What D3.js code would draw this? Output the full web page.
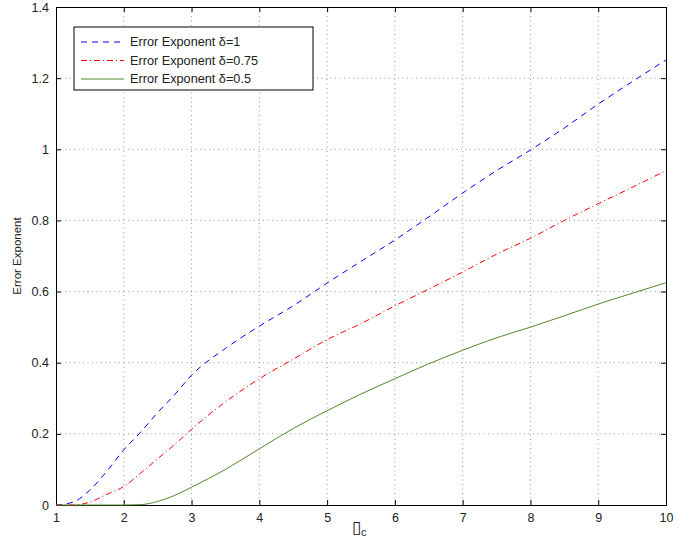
<!DOCTYPE html>
<html><head><meta charset="utf-8">
<script src="https://cdn.jsdelivr.net/npm/d3@7"></script>
<style>body{margin:0;background:#fff}svg{display:block}text{font-family:"Liberation Sans",Arial,sans-serif}</style>
</head><body><svg id="c" width="693" height="541"></svg>
<script>
const xs = [1,1.25,1.5,1.75,2,2.25,2.5,2.75,3,3.5,4,4.5,5,5.5,6,6.5,7,7.5,8,8.5,9,9.5,10];
const delta1 = [0,0.008,0.042,0.095,0.155,0.205,0.26,0.31,0.365,0.44,0.503,0.56,0.624,0.685,0.745,0.81,0.877,0.94,0.998,1.06,1.127,1.19,1.251];
const delta075 = [0,0,0.008,0.03,0.052,0.09,0.13,0.17,0.213,0.29,0.355,0.41,0.465,0.51,0.56,0.607,0.655,0.705,0.75,0.8,0.847,0.893,0.94];
const delta05 = [0,0,0,0,0,0.001,0.01,0.027,0.05,0.1,0.158,0.215,0.265,0.312,0.355,0.397,0.435,0.47,0.5,0.532,0.565,0.595,0.625];
const xTicks = [1,2,3,4,5,6,7,8,9,10];
const yTicks = [0,0.2,0.4,0.6,0.8,1,1.2,1.4];
const seriesNames = ["Error Exponent \u03b4=1","Error Exponent \u03b4=0.75","Error Exponent \u03b4=0.5"];
const xLabel = "\u25AF";
const yLabel = "Error Exponent";

const svg = d3.select("#c");
const L=56,R=666,T=7,B=505;
const x = d3.scaleLinear().domain([1,10]).range([L,R]);
const y = d3.scaleLinear().domain([0,1.4]).range([B,T]);

// grid
const g = svg.append("g");
g.selectAll(".gx").data(xTicks.slice(1,-1)).join("line")
 .attr("x1",d=>x(d)).attr("x2",d=>x(d)).attr("y1",T).attr("y2",B)
 .attr("stroke","#555").attr("stroke-width",0.6).attr("stroke-dasharray","1,3.5");
g.selectAll(".gy").data(yTicks.slice(1,-1)).join("line")
 .attr("y1",d=>y(d)).attr("y2",d=>y(d)).attr("x1",L).attr("x2",R)
 .attr("stroke","#555").attr("stroke-width",0.6).attr("stroke-dasharray","1,3.5");

// axes
const ax = svg.append("g").attr("transform",`translate(0,${B})`)
 .call(d3.axisBottom(x).tickValues(xTicks).tickSize(-5).tickPadding(8).tickFormat(d3.format("d")));
const ay = svg.append("g").attr("transform",`translate(${L},0)`)
 .call(d3.axisLeft(y).tickValues(yTicks).tickSize(-5).tickPadding(7).tickFormat(d=>d===0?"0":d3.format("")(+d.toFixed(1))));
const ax2 = svg.append("g").attr("transform",`translate(0,${T})`)
 .call(d3.axisTop(x).tickValues(xTicks).tickSize(-5).tickFormat(""));
const ay2 = svg.append("g").attr("transform",`translate(${R},0)`)
 .call(d3.axisRight(y).tickValues(yTicks).tickSize(-5).tickFormat(""));
[ax,ay,ax2,ay2].forEach(a=>{a.select(".domain").attr("stroke","#000");a.selectAll(".tick line").attr("stroke","#000");
 a.selectAll("text").attr("font-size",12.5).attr("fill","#222").style("font-family","Liberation Sans, Arial, sans-serif");});

// lines
const line = d3.line().x((d,i)=>x(xs[i])).y(d=>y(d)).curve(d3.curveMonotoneX);
const styles = [
 {data:delta1,color:"#0000ff",dash:"6,5"},
 {data:delta075,color:"#ff0000",dash:"6,3,1,3"},
 {data:delta05,color:"#4f8a2a",dash:null}];
styles.forEach(s=>{
 svg.append("path").datum(s.data).attr("d",line).attr("fill","none")
  .attr("stroke",s.color).attr("stroke-width",1).attr("stroke-dasharray",s.dash);
});

// labels
svg.append("text").attr("x",352).attr("y",533).attr("font-size",17).attr("fill","#222").text(xLabel)
 .append("tspan").attr("dy",3).attr("font-size",11).text("c");
svg.append("text").attr("transform",`translate(21,${(T+B)/2}) rotate(-90)`).attr("text-anchor","middle")
 .attr("font-size",11.5).attr("fill","#222").text(yLabel);

// legend
const lg = svg.append("g");
lg.append("rect").attr("x",74).attr("y",27).attr("width",239).attr("height",63).attr("fill","#fff").attr("stroke","#000").attr("stroke-width",1);
styles.forEach((s,i)=>{
 const yy = 42+i*18.5;
 lg.append("line").attr("x1",81).attr("x2",124).attr("y1",yy).attr("y2",yy).attr("stroke",s.color).attr("stroke-dasharray",s.dash).attr("stroke-width",1);
 lg.append("text").attr("x",130).attr("y",yy+4).attr("font-size",12.7).attr("fill","#222").text(seriesNames[i]);
});
</script></body></html>
